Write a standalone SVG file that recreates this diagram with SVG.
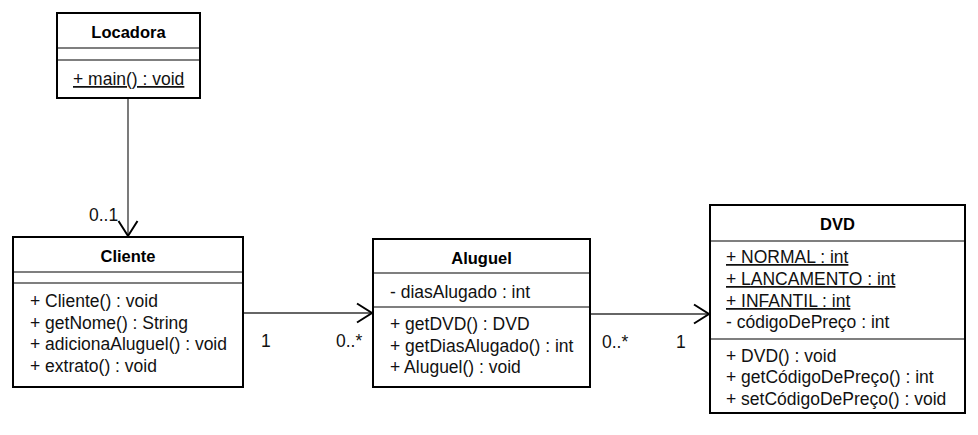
<svg xmlns="http://www.w3.org/2000/svg" width="978" height="435" viewBox="0 0 978 435">
<style>
.box{fill:#fff;stroke:#000;stroke-width:2}
.div{stroke:#000;stroke-width:1.2}
.t{font-family:"Liberation Sans",Arial,sans-serif;font-size:17.5px;fill:#111}
.b{font-family:"Liberation Sans",Arial,sans-serif;font-size:16.5px;font-weight:bold;fill:#000;text-anchor:middle}
.u{text-decoration:underline}
.conn{stroke:#333;stroke-width:1.3;fill:none}
</style>
<defs>
<marker id="open" markerUnits="userSpaceOnUse" markerWidth="30" markerHeight="30" refX="0" refY="0" orient="auto" overflow="visible">
<path d="M-15,-9.5 L0,0 L-15,9.5" fill="none" stroke="#000" stroke-width="2"/>
</marker>
</defs>
<rect width="978" height="435" fill="#fff"/>
<g id="connectors">
<line class="conn" x1="128" y1="98" x2="128" y2="236" marker-end="url(#open)"/>
<line class="conn" x1="243" y1="313" x2="372" y2="313" marker-end="url(#open)"/>
<line class="conn" x1="590" y1="314" x2="709" y2="314" marker-end="url(#open)"/>
<text class="t" x="89" y="221">0..1</text>
<text class="t" x="261" y="347">1</text>
<text class="t" x="336" y="347">0..*</text>
<text class="t" x="602" y="348">0..*</text>
<text class="t" x="676" y="348">1</text>
</g>
<g id="Locadora">
<rect class="box" x="57" y="13" width="143" height="85"/>
<line class="div" x1="57" y1="48" x2="200" y2="48"/>
<line class="div" x1="57" y1="60" x2="200" y2="60"/>
<text class="b" x="128.5" y="38">Locadora</text>
<text class="t u" x="73" y="85">+ main() : void</text>
</g>
<g id="Cliente">
<rect class="box" x="13" y="237" width="230" height="150"/>
<line class="div" x1="13" y1="272" x2="243" y2="272"/>
<line class="div" x1="13" y1="283" x2="243" y2="283"/>
<text class="b" x="128" y="262">Cliente</text>
<text class="t" x="30" y="307">+ Cliente() : void</text>
<text class="t" x="30" y="329">+ getNome() : String</text>
<text class="t" x="30" y="350">+ adicionaAluguel() : void</text>
<text class="t" x="30" y="372">+ extrato() : void</text>
</g>
<g id="Aluguel">
<rect class="box" x="373" y="239" width="217" height="148"/>
<line class="div" x1="373" y1="273" x2="590" y2="273"/>
<line class="div" x1="373" y1="307" x2="590" y2="307" stroke-width="2"/>
<text class="b" x="481.5" y="264">Aluguel</text>
<text class="t" x="390" y="298">- diasAlugado : int</text>
<text class="t" x="390" y="330">+ getDVD() : DVD</text>
<text class="t" x="390" y="352">+ getDiasAlugado() : int</text>
<text class="t" x="390" y="373">+ Aluguel() : void</text>
</g>
<g id="DVD">
<rect class="box" x="710" y="205" width="255" height="208"/>
<line class="div" x1="710" y1="241" x2="965" y2="241"/>
<line class="div" x1="710" y1="339" x2="965" y2="339"/>
<text class="b" x="837.5" y="230">DVD</text>
<text class="t u" x="726" y="263">+ NORMAL : int</text>
<text class="t u" x="726" y="285">+ LANCAMENTO : int</text>
<text class="t u" x="726" y="307">+ INFANTIL : int</text>
<text class="t" x="726" y="328">- códigoDePreço : int</text>
<text class="t" x="726" y="362">+ DVD() : void</text>
<text class="t" x="726" y="383">+ getCódigoDePreço() : int</text>
<text class="t" x="726" y="405">+ setCódigoDePreço() : void</text>
</g>
</svg>
